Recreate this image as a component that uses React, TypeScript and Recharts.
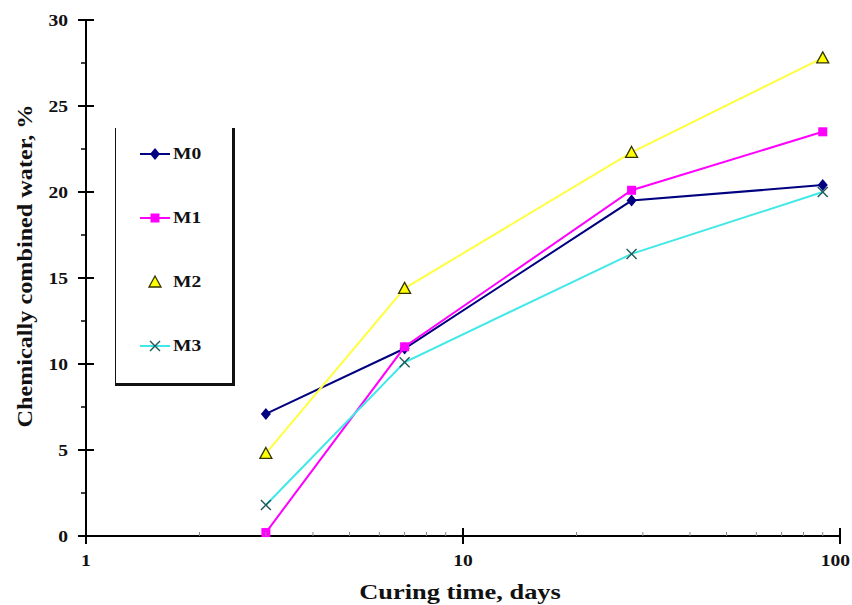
import { LineChart, Line, XAxis, YAxis } from "recharts";

// curing time (days) and chemically combined water (%) per mix
const days = [3, 7, 28, 90];
const m0 = [7.1, 10.9, 19.5, 20.4];
const m1 = [0.2, 11.0, 20.1, 23.5];
const m2 = [4.8, 14.4, 22.3, 27.8];
const m3 = [1.8, 10.1, 16.4, 20.0];

const xTicks = [1, 2, 3, 4, 5, 6, 7, 8, 9, 10, 20, 30, 40, 50, 60, 70, 80, 90, 100];
const xLabels = [1, 10, 100];
const yTicks = [0, 2.5, 5, 7.5, 10, 12.5, 15, 17.5, 20, 22.5, 25, 27.5, 30];

const series = [
  { key: "M0", values: m0, color: "#000080", marker: "diamond" },
  { key: "M1", values: m1, color: "#ff00ff", marker: "square" },
  { key: "M2", values: m2, color: "#ffff40", marker: "triangle" },
  { key: "M3", values: m3, color: "#40e8e8", marker: "cross" },
];

const data = days.map((d, i) => {
  const row: any = { day: d };
  series.forEach((s) => (row[s.key] = s.values[i]));
  return row;
});

const font = "'Liberation Serif', 'Times New Roman', serif";

const Marker = ({ type, cx, cy, color }: any) => {
  if (cx == null || cy == null) return null;
  if (type === "diamond")
    return <path d={`M${cx},${cy - 6}L${cx + 5},${cy}L${cx},${cy + 6}L${cx - 5},${cy}Z`} fill={color} />;
  if (type === "square")
    return <rect x={cx - 4.5} y={cy - 4.5} width={9} height={9} fill={color} />;
  if (type === "triangle")
    return (
      <path
        d={`M${cx},${cy - 6}L${cx + 6},${cy + 5}L${cx - 6},${cy + 5}Z`}
        fill="#ffff00"
        stroke="#333300"
        strokeWidth={1.3}
      />
    );
  return (
    <g stroke="#1f5a5a" strokeWidth={1.4}>
      <line x1={cx - 5} y1={cy - 5} x2={cx + 5} y2={cy + 5} />
      <line x1={cx - 5} y1={cy + 5} x2={cx + 5} y2={cy - 5} />
    </g>
  );
};

const YTick = ({ x, y, payload }: any) => {
  const v = payload.value;
  const major = v % 5 === 0;
  return (
    <g>
      {major ? (
        <line x1={x - 8} y1={y} x2={x + 8} y2={y} stroke="#000" strokeWidth={2} />
      ) : (
        <line x1={x - 5} y1={y} x2={x} y2={y} stroke="#000" strokeWidth={1.5} />
      )}
      {major && (
        <text
          x={x - 18}
          y={y + 6}
          textAnchor="end"
          fontFamily={font}
          fontWeight="bold"
          fontSize={17}
          fill="#111"
          transform={`translate(${x - 18},0) scale(1.15,1) translate(${-(x - 18)},0)`}
        >
          {v}
        </text>
      )}
    </g>
  );
};

const XTick = ({ x, y, payload }: any) => {
  const v = payload.value;
  const major = xLabels.includes(v);
  // the last label sits at the right edge, keep it inside the picture
  const anchorX = v === 100 ? 850 : x;
  const anchor = v === 100 ? "end" : "middle";
  return (
    <g>
      {major ? (
        <line x1={x} y1={y - 8} x2={x} y2={y + 8} stroke="#000" strokeWidth={2} />
      ) : (
        <line x1={x} y1={y - 4} x2={x} y2={y} stroke="#888" strokeWidth={1} />
      )}
      {major && (
        <text
          x={anchorX}
          y={y + 30}
          textAnchor={anchor}
          fontFamily={font}
          fontWeight="bold"
          fontSize={17}
          fill="#111"
          transform={`translate(${anchorX},0) scale(1.15,1) translate(${-anchorX},0)`}
        >
          {v}
        </text>
      )}
    </g>
  );
};

const LegendBox = () => (
  <div
    style={{
      position: "absolute",
      left: 115,
      top: 128,
      width: 116,
      height: 255,
      borderLeft: "1.5px solid #111",
      borderRight: "3px solid #111",
      borderBottom: "3px solid #111",
      background: "#fff",
    }}
  >
    {series.map((s, i) => (
      <div
        key={s.key}
        style={{ position: "absolute", left: 22, top: 16 + i * 64, display: "flex", alignItems: "center" }}
      >
        <svg width={34} height={20}>
          {s.marker !== "triangle" && <line x1={2} y1={10} x2={32} y2={10} stroke={s.color} strokeWidth={2} />}
          <Marker type={s.marker} cx={17} cy={10} color={s.color} />
        </svg>
        <span
          style={{
            fontFamily: font,
            fontWeight: "bold",
            fontSize: 17,
            color: "#111",
            marginLeft: 1,
            display: "inline-block",
            transform: "scaleX(1.15)",
            transformOrigin: "left center",
          }}
        >
          {s.key}
        </span>
      </div>
    ))}
  </div>
);

export default function App() {
  return (
    <div style={{ position: "absolute", left: 0, top: 0, width: 852, height: 605, background: "#fff", overflow: "hidden" }}>
      <LineChart width={852} height={605} data={data} margin={{ top: 20, right: 12, bottom: 39, left: 26 }}>
        <XAxis
          dataKey="day"
          type="number"
          scale="log"
          domain={[1, 100]}
          ticks={xTicks}
          interval={0}
          tickSize={0}
          tickMargin={0}
          tick={<XTick />}
          axisLine={{ stroke: "#000", strokeWidth: 2 }}
          tickLine={false}
          allowDataOverflow
        />
        <YAxis
          type="number"
          domain={[0, 30]}
          ticks={yTicks}
          interval={0}
          width={60}
          tickSize={0}
          tickMargin={0}
          tick={<YTick />}
          axisLine={{ stroke: "#000", strokeWidth: 2 }}
          tickLine={false}
        />
        {series.map((s) => (
          <Line
            key={s.key}
            dataKey={s.key}
            stroke={s.color}
            strokeWidth={2}
            isAnimationActive={false}
            dot={(p: any) => <Marker key={`${s.key}-${p.index}`} type={s.marker} cx={p.cx} cy={p.cy} color={s.color} />}
            activeDot={false}
          />
        ))}
      </LineChart>
      <LegendBox />
      <div
        style={{
          position: "absolute",
          left: 460,
          top: 592,
          transform: "translate(-50%, -50%) scaleX(1.2)",
          fontFamily: font,
          fontWeight: "bold",
          fontSize: 22,
          color: "#111",
          whiteSpace: "nowrap",
        }}
      >
        Curing time, days
      </div>
      <div
        style={{
          position: "absolute",
          left: 25,
          top: 266,
          transform: "translate(-50%, -50%) rotate(-90deg) scaleX(1.1)",
          fontFamily: font,
          fontWeight: "bold",
          fontSize: 22,
          color: "#111",
          whiteSpace: "nowrap",
        }}
      >
        Chemically combined water, %
      </div>
    </div>
  );
}
